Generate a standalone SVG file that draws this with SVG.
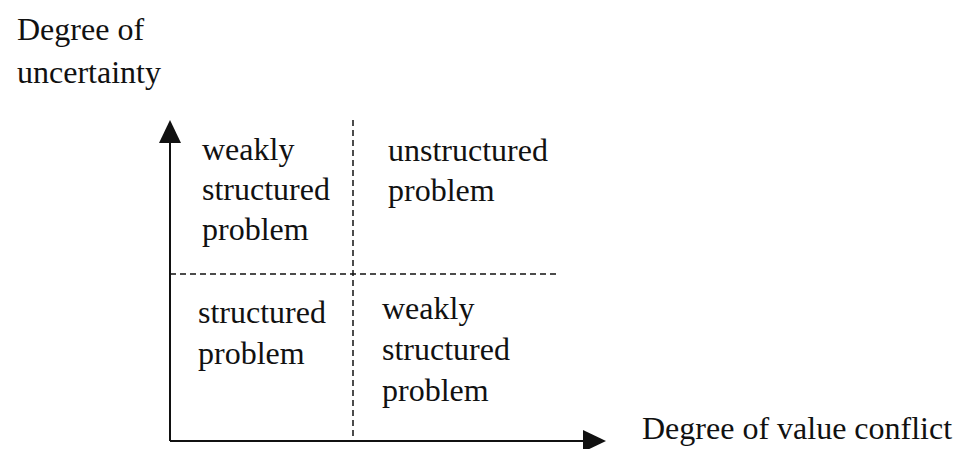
<svg xmlns="http://www.w3.org/2000/svg" width="963" height="449" viewBox="0 0 963 449">
<style>
text{font-family:"Liberation Serif","Times New Roman",serif;font-size:32px;fill:#111}
.axis{stroke:#111;stroke-width:2;fill:none}
.dash{stroke:#111;stroke-width:1.5;stroke-dasharray:6 4;fill:none}
</style>
<rect width="963" height="449" fill="#fff"/>
<g id="connectors">
<line class="axis" x1="170" y1="140" x2="170" y2="441"/>
<line class="axis" x1="170" y1="441" x2="586" y2="441"/>
<polygon points="170,120 159,143 181,143" fill="#111"/>
<polygon points="606,441 583,430 583,452" fill="#111"/>
<line class="dash" x1="170" y1="274" x2="557" y2="274"/>
<line class="dash" x1="353" y1="120" x2="353" y2="441"/>
</g>
<g id="label-y">
<text x="17" y="40">Degree of</text>
<text x="17" y="83">uncertainty</text>
</g>
<g id="label-x">
<text x="642" y="439">Degree of value conflict</text>
</g>
<g id="q-top-left">
<text x="202" y="160">weakly</text>
<text x="202" y="200">structured</text>
<text x="202" y="240">problem</text>
</g>
<g id="q-top-right">
<text x="388" y="161">unstructured</text>
<text x="388" y="201">problem</text>
</g>
<g id="q-bottom-left">
<text x="198" y="323">structured</text>
<text x="198" y="364">problem</text>
</g>
<g id="q-bottom-right">
<text x="382" y="319">weakly</text>
<text x="382" y="360">structured</text>
<text x="382" y="401">problem</text>
</g>
</svg>
